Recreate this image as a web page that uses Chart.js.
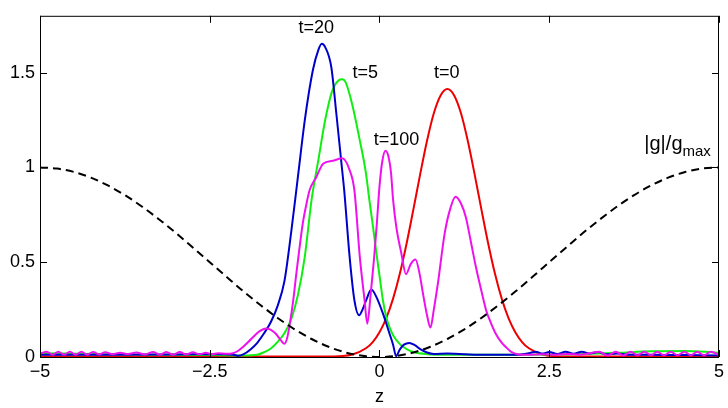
<!DOCTYPE html>
<html>
<head>
<meta charset="utf-8">
<script src="https://cdn.jsdelivr.net/npm/chart.js@4.4.1/dist/chart.umd.min.js"></script>
<style>
  html, body { margin: 0; padding: 0; background: #fff; }
  #wrap { width: 728px; height: 408px; }
</style>
</head>
<body>
<div id="wrap"><canvas id="grafico"></canvas></div>
<script>
// ---- ticks
const zTicks = [-5, -2.5, 0, 2.5, 5];
const yTicks = [0, 0.5, 1, 1.5];

// ---- |g|/gmax (dashed)
const gZ = [-5, -4.75, -4.5, -4.25, -4, -3.75, -3.5, -3.25, -3, -2.75, -2.5, -2.25, -2, -1.75, -1.5, -1.25, -1, -0.75, -0.5, -0.25, 0,
  0.25, 0.5, 0.75, 1, 1.25, 1.5, 1.75, 2, 2.25, 2.5, 2.75, 3, 3.25, 3.5, 3.75, 4, 4.25, 4.5, 4.75, 5];
const gVal = [1, 0.994, 0.976, 0.946, 0.905, 0.854, 0.794, 0.727, 0.655, 0.578, 0.5, 0.422, 0.345, 0.273, 0.206, 0.146, 0.095, 0.054, 0.024, 0.006, 0,
  0.006, 0.024, 0.054, 0.095, 0.146, 0.206, 0.273, 0.345, 0.422, 0.5, 0.578, 0.655, 0.727, 0.794, 0.854, 0.905, 0.946, 0.976, 0.994, 1];

// ---- t=0 (red)
const t0Z = [-5, -1, -0.6, -0.4, -0.2, -0.1, 0, 0.1, 0.2, 0.3, 0.4, 0.5, 0.6, 0.7, 0.8, 0.9, 1.0, 1.1, 1.2, 1.3, 1.4, 1.5, 1.6, 1.7, 1.8, 1.9, 2.0, 2.1, 2.2, 2.4, 2.6, 3, 5];
const t0Val = [0.002, 0.002, 0.004, 0.013, 0.046, 0.079, 0.131, 0.205, 0.308, 0.44, 0.6, 0.78, 0.966, 1.141, 1.286, 1.38, 1.414, 1.38, 1.286, 1.141, 0.966, 0.78, 0.6, 0.44, 0.308, 0.205, 0.131, 0.079, 0.046, 0.013, 0.004, 0.002, 0.002];

// ---- t=5 (green)
const t5Z = [-5, -4, -3, -2.5, -2, -1.8, -1.7, -1.6, -1.5, -1.4, -1.3, -1.2, -1.1, -1.0, -0.9, -0.8, -0.7, -0.6, -0.55, -0.5, -0.4, -0.3, -0.2, -0.15, -0.1, -0.05, 0,
  0.05, 0.1, 0.15, 0.2, 0.3, 0.4, 0.5, 0.7, 1.0, 2, 3, 3.5, 4, 4.5, 4.8, 5];
const t5Val = [0.02, 0.015, 0.012, 0.01, 0.008, 0.012, 0.025, 0.045, 0.08, 0.125, 0.2, 0.33, 0.53, 0.83, 1.04, 1.25, 1.4, 1.46, 1.465, 1.45, 1.33, 1.16, 0.97, 0.83, 0.7, 0.56, 0.43,
  0.3, 0.21, 0.155, 0.115, 0.068, 0.042, 0.026, 0.015, 0.012, 0.012, 0.016, 0.022, 0.03, 0.032, 0.028, 0.022];

// ---- t=20 (blue)
const t20Z = [-5, -4, -3, -2.3, -2.15, -2.08, -2.0, -1.9, -1.8, -1.7, -1.6, -1.5, -1.4, -1.3, -1.2, -1.1, -0.98, -0.9, -0.85, -0.8, -0.71, -0.636, -0.56, -0.52, -0.44, -0.37, -0.3,
  -0.25, -0.196, -0.12, -0.05, 0.05, 0.147, 0.2, 0.245, 0.3, 0.36, 0.44, 0.52, 0.6, 0.7, 0.8, 1.0, 1.5, 2.0, 2.2, 2.3, 2.4, 2.5, 2.62, 2.74, 2.86, 2.98, 3.1, 3.22, 3.34, 3.5, 3.7, 4.0, 4.5, 5];
const t20Val = [0.012, 0.012, 0.013, 0.015, 0.012, 0.006, 0.015, 0.04, 0.075, 0.125, 0.185, 0.27, 0.4, 0.66, 0.955, 1.25, 1.515, 1.62, 1.652, 1.635, 1.53, 1.286, 1.02, 0.88, 0.528, 0.3, 0.22,
  0.25, 0.3, 0.356, 0.32, 0.23, 0.124, 0.065, 0.004, 0.04, 0.065, 0.074, 0.062, 0.042, 0.024, 0.016, 0.018, 0.012, 0.012, 0.02, 0.028, 0.018, 0.026, 0.016, 0.028, 0.017, 0.028, 0.018, 0.026, 0.014, 0.018, 0.012, 0.012, 0.01, 0.008];

// ---- t=100 (magenta)
const t100Z = [-5, -4.9, -4.815, -4.73, -4.645, -4.56, -4.475, -4.39, -4.305, -4.22, -4.13, -4.04, -3.93, -3.82, -3.7, -3.58, -3.455, -3.33, -3.235, -3.14, -3.04, -2.94, -2.845, -2.75, -2.65, -2.56, -2.47, -2.38, -2.25, -2.16,
  -2.08, -2.01, -1.93, -1.86, -1.77, -1.67, -1.6, -1.53, -1.46, -1.4, -1.36, -1.32, -1.27, -1.225, -1.18, -1.13, -1.08, -1.03, -0.93, -0.83, -0.69, -0.55, -0.44, -0.37, -0.29, -0.22, -0.18,
  -0.13, -0.08, -0.04, 0, 0.04, 0.088, 0.13, 0.17, 0.2, 0.25, 0.32, 0.39, 0.46, 0.53, 0.59, 0.64, 0.7, 0.75, 0.8, 0.86, 0.96, 1.04, 1.12, 1.2, 1.27, 1.35, 1.42, 1.5, 1.57, 1.64, 1.71, 1.79, 1.86, 1.93, 2.0, 2.1,
  2.2, 2.4, 2.6, 2.8, 2.95, 3.1, 3.235, 3.36, 3.48, 3.59, 3.7, 3.8, 3.9, 4.0, 4.09, 4.19, 4.29, 4.39, 4.49, 4.585, 4.68, 4.78, 4.88, 5];
const t100Val = [0.018, 0.028, 0.012, 0.028, 0.012, 0.028, 0.012, 0.028, 0.012, 0.027, 0.013, 0.025, 0.015, 0.022, 0.016, 0.024, 0.013, 0.027, 0.012, 0.027, 0.012, 0.026, 0.013, 0.025, 0.014, 0.022, 0.015, 0.02, 0.017, 0.02,
  0.033, 0.053, 0.08, 0.106, 0.135, 0.15, 0.143, 0.124, 0.092, 0.07, 0.1, 0.176, 0.3, 0.44, 0.57, 0.705, 0.8, 0.88, 0.95, 1.02, 1.035, 1.048, 0.986, 0.88, 0.528, 0.3, 0.176,
  0.33, 0.52, 0.7, 0.9, 1.03, 1.088, 1.06, 0.97, 0.83, 0.68, 0.55, 0.437, 0.49, 0.514, 0.44, 0.335, 0.22, 0.155, 0.25, 0.388, 0.652, 0.78, 0.845, 0.81, 0.74, 0.6, 0.475, 0.35, 0.247, 0.18, 0.124, 0.08, 0.053, 0.03, 0.018, 0.012,
  0.012, 0.014, 0.012, 0.016, 0.012, 0.02, 0.028, 0.008, 0.028, 0.008, 0.028, 0.008, 0.028, 0.008, 0.028, 0.008, 0.028, 0.008, 0.028, 0.008, 0.028, 0.008, 0.028, 0.01];

// ---- curve labels (anchored in data units)
const labelText = ['t=20', 't=5', 't=0', 't=100'];
const labelZ = [-0.93, -0.21, 0.99, 0.25];
const labelV = [1.735, 1.5, 1.5, 1.145];

const pares = (zs, vs) => zs.map((z, i) => ({ x: z, y: vs[i] }));
const FONTE = '"Liberation Sans", Arial, sans-serif';

function serie(zs, vs, cor, ordem, extra) {
  return Object.assign({
    data: pares(zs, vs), borderColor: cor, borderWidth: 2, pointRadius: 0,
    showLine: true, fill: false, cubicInterpolationMode: 'monotone', order: ordem
  }, extra || {});
}

// Moldura + ticks para dentro + textos
const molduraPlugin = {
  id: 'moldura',
  afterDraw(chart) {
    const { ctx, chartArea: a, scales: { x, y } } = chart;
    ctx.save();
    ctx.strokeStyle = '#000'; ctx.lineWidth = 1;
    ctx.strokeRect(a.left + 0.5, a.top + 0.5, a.right - a.left - 1, a.bottom - a.top);
    ctx.beginPath();
    zTicks.forEach(v => {
      const px = Math.round(x.getPixelForValue(v)) + 0.5;
      ctx.moveTo(px, a.bottom); ctx.lineTo(px, a.bottom - 7);
      ctx.moveTo(px, a.top); ctx.lineTo(px, a.top + 7);
    });
    yTicks.forEach(v => {
      const py = Math.round(y.getPixelForValue(v)) + 0.5;
      ctx.moveTo(a.left, py); ctx.lineTo(a.left + 7, py);
      ctx.moveTo(a.right, py); ctx.lineTo(a.right - 7, py);
    });
    ctx.stroke();

    ctx.fillStyle = '#000';
    ctx.font = '18px ' + FONTE;
    ctx.textAlign = 'center'; ctx.textBaseline = 'middle';
    labelText.forEach((t, i) => ctx.fillText(t, x.getPixelForValue(labelZ[i]), y.getPixelForValue(labelV[i])));

    // |g|/gmax
    const gx = x.getPixelForValue(3.9), gy = y.getPixelForValue(1.12);
    ctx.textAlign = 'left';
    ctx.font = '20px ' + FONTE;
    ctx.fillText('|g|/g', gx, gy);
    const w = ctx.measureText('|g|/g').width;
    ctx.font = '15px ' + FONTE;
    ctx.fillText('max', gx + w, gy + 7);

    // z
    ctx.font = '18px ' + FONTE;
    ctx.textAlign = 'center';
    ctx.fillText('z', x.getPixelForValue(0), a.bottom + 40);
    ctx.restore();
  }
};

new Chart(document.getElementById('grafico'), {
  type: 'scatter',
  data: {
    datasets: [
      serie(gZ, gVal, '#000', 1, { borderDash: [8, 5] }),
      serie(t0Z, t0Val, '#ee0000', 5),
      serie(t5Z, t5Val, '#11ee11', 4),
      serie(t20Z, t20Val, '#0000cc', 3),
      serie(t100Z, t100Val, '#ee11ee', 2)
    ]
  },
  options: {
    responsive: true, maintainAspectRatio: false, animation: false,
    devicePixelRatio: 1,
    layout: { padding: { top: 15, right: 8, left: 0, bottom: 0 } },
    plugins: { legend: { display: false }, tooltip: { enabled: false } },
    scales: {
      x: {
        type: 'linear', min: -5, max: 5,
        grid: { display: false, drawTicks: false }, border: { display: false },
        afterBuildTicks: s => { s.ticks = zTicks.map(v => ({ value: v })); },
        afterFit: s => { s.height = 51; },
        ticks: { color: '#000', padding: 4, font: { size: 18, family: FONTE }, maxRotation: 0,
          callback: v => String(v).replace('-', '\u2212') }
      },
      y: {
        min: 0, max: 1.8,
        grid: { display: false, drawTicks: false }, border: { display: false },
        afterBuildTicks: s => { s.ticks = yTicks.map(v => ({ value: v })); },
        afterFit: s => { s.width = 40; },
        ticks: { color: '#000', padding: 5, font: { size: 18, family: FONTE },
          callback: v => String(v) }
      }
    }
  },
  plugins: [molduraPlugin]
});
</script>
</body>
</html>
